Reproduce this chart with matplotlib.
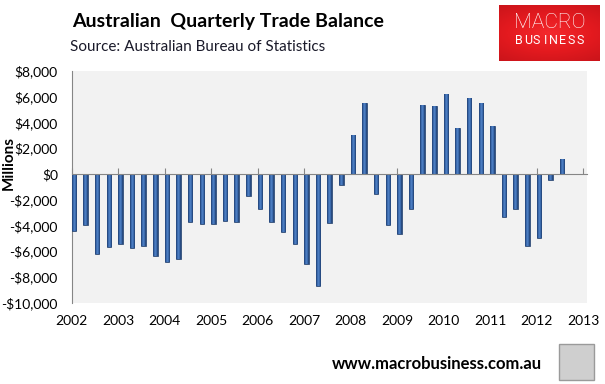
import numpy as np
import matplotlib
matplotlib.use("Agg")
import matplotlib.pyplot as plt
from matplotlib.colors import LinearSegmentedColormap
from matplotlib.patches import Rectangle

# quarterly trade balance, $ millions, 2002 Q1 .. 2012 Q3
years = list(range(2002, 2014))
quarters = [y + q * 0.25 for y in range(2002, 2013) for q in range(4)][:43]
balance = [
    -4450, -4000, -6250, -5700,   # 2002
    -5450, -5750, -5600, -6400,   # 2003
    -6850, -6600, -3750, -3900,   # 2004
    -3900, -3650, -3750, -1700,   # 2005
    -2700, -3750, -4500, -5450,   # 2006
    -7000, -8700, -3800, -850,    # 2007
    3050, 5500, -1550, -3950,     # 2008
    -4650, -2700, 5350, 5250,     # 2009
    6200, 3550, 5900, 5500,       # 2010
    3700, -3350, -2700, -5600,    # 2011
    -4950, -450, 1150,            # 2012
]
yticks = list(range(-10000, 8001, 2000))

W, H = 605, 384
fig = plt.figure(figsize=(W / 100, H / 100), dpi=100)
fig.patch.set_facecolor("white")

# plot area in pixels
x0, x1, ytop, ybot = 71.7, 586.7, 71.0, 302.7
ax = fig.add_axes([x0 / W, 1 - ybot / H, (x1 - x0) / W, (ybot - ytop) / H])
ax.set_facecolor("#F2F2F2")

bars = ax.bar(quarters, balance, width=0.097, align="edge",
              color="#3465A8", edgecolor="#1E3A66", linewidth=0.5, zorder=3)

# give each bar the glossy horizontal shading
cmap = LinearSegmentedColormap.from_list(
    "bar", ["#1C3560", "#3568B0", "#5A8ACB", "#3568B0", "#1C3560"])
grad = np.linspace(0, 1, 32).reshape(1, -1)
for b in bars:
    bx, by = b.get_x(), b.get_y()
    im = ax.imshow(grad, cmap=cmap, aspect="auto", zorder=3.5,
                   extent=[bx, bx + b.get_width(), by, by + b.get_height()],
                   interpolation="bicubic")
    im.set_clip_path(b)

ax.set_xlim(2002, 2002 + (x1 - x0) / 46.5)
ax.set_ylim(-10000, 8000)

for s in ["top", "right"]:
    ax.spines[s].set_visible(False)
ax.spines["left"].set_color("#868686")
ax.spines["bottom"].set_position(("data", 0))
ax.spines["bottom"].set_color("#868686")
ax.spines["bottom"].set_zorder(4)

ax.set_xticks(years)
ax.tick_params(axis="x", direction="in", length=4, color="#868686",
               labelbottom=False)
ax.set_yticks(yticks)
ax.set_yticklabels([("-$" if v < 0 else "$") + f"{abs(v):,}" for v in yticks])
ax.tick_params(axis="y", length=0, pad=10, labelsize=10, labelcolor="black")
for t in ax.get_yticklabels():
    t.set_family("Lato")

sec = ax.secondary_xaxis(0)
sec.set_xticks(years)
sec.set_xticklabels([str(y) for y in years])
sec.tick_params(length=0, pad=9, labelsize=10)
sec.spines["bottom"].set_visible(False)
for t in sec.get_xticklabels():
    t.set_family("Lato")

fig.text(8.5 / W, 1 - 163 / H, "Millions", rotation=90, ha="center",
         va="center", fontsize=11, fontweight="bold", family="Lato")

# titles
fig.text(72.5 / W, 1 - 22 / H, "Australian  Quarterly Trade Balance",
         fontsize=14, fontweight="bold", family="Lato", va="center")
fig.text(70.5 / W, 1 - 47 / H, "Source: Australian Bureau of Statistics",
         fontsize=11, family="Lato", va="center", color="#1a1a2a")

# logo
lax = fig.add_axes([499 / W, 1 - 60.7 / H, 101 / W, 55.7 / H])
red = LinearSegmentedColormap.from_list("red", ["#F4292D", "#E41A1F", "#C9141A"])
yy, xx = np.mgrid[-1:1:60j, -1:1:100j]
lax.imshow(np.sqrt(xx ** 2 * 0.6 + yy ** 2), cmap=red,
           aspect="auto", extent=[0, 1, 0, 1], vmin=0, vmax=1.3)
lax.set_axis_off()
lax.text(0.5, 0.52, "MACRO", color="white", fontsize=15, family="Roboto",
         fontweight="light", ha="center", va="bottom", transform=lax.transAxes)
letters = "BUSINESS"
for i, ch in enumerate(letters):
    lax.text(0.2 + i * 0.6 / (len(letters) - 1), 0.24, ch, color="white",
             fontsize=9, family="Roboto", ha="center", va="bottom",
             transform=lax.transAxes)

# footer
fig.text(331.7 / W, 1 - 364 / H, "www.macrobusiness.com.au", fontsize=12,
         fontweight="bold", family="Lato", va="center")
fig.patches.append(Rectangle((559 / W, 1 - 380 / H), 35 / W, 36 / H,
                             transform=fig.transFigure, facecolor="#CFCFCF",
                             edgecolor="#9A9A9A", linewidth=1))

fig.savefig("out.png", dpi=100)
